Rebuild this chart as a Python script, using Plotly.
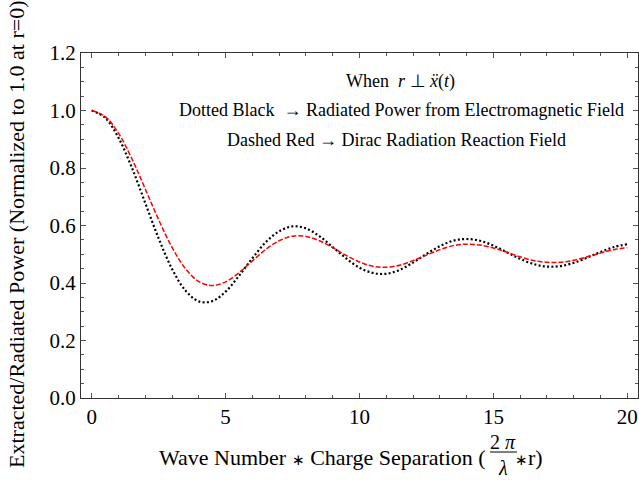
import plotly.graph_objects as go

# x values (wave number * charge separation)
x_vals = [0.0, 0.5, 1.0, 1.5, 2.0, 2.5, 3.0, 3.5, 4.0, 4.5, 5.0, 5.5, 6.0, 6.5, 7.0, 7.5,
          8.0, 8.5, 9.0, 9.5, 10.0, 10.5, 11.0, 11.5, 12.0, 12.5, 13.0, 13.5, 14.0, 14.5,
          15.0, 15.5, 16.0, 16.5, 17.0, 17.5, 18.0, 18.5, 19.0, 19.5, 20.0]

# Dotted black: radiated power from electromagnetic field
em_power = [1.000, 0.975, 0.905, 0.801, 0.678, 0.555, 0.449, 0.374, 0.336, 0.337, 0.370,
            0.425, 0.486, 0.542, 0.580, 0.597, 0.590, 0.563, 0.525, 0.486, 0.453, 0.435,
            0.432, 0.446, 0.471, 0.501, 0.528, 0.547, 0.553, 0.547, 0.530, 0.507, 0.484,
            0.466, 0.457, 0.459, 0.470, 0.488, 0.508, 0.525, 0.535]

# Dashed red: Dirac radiation reaction field
dirac_power = [1.000, 0.979, 0.921, 0.832, 0.727, 0.620, 0.524, 0.450, 0.405, 0.391, 0.404,
               0.436, 0.477, 0.517, 0.547, 0.563, 0.562, 0.547, 0.523, 0.496, 0.473, 0.458,
               0.455, 0.462, 0.478, 0.497, 0.516, 0.530, 0.535, 0.532, 0.522, 0.507, 0.491,
               0.478, 0.472, 0.472, 0.479, 0.491, 0.504, 0.516, 0.523]

y_tick_vals = [0.0, 0.2, 0.4, 0.6, 0.8, 1.0, 1.2]
y_tick_text = ["0.0", "0.2", "0.4", "0.6", "0.8", "1.0", "1.2"]
x_tick_vals = [0, 5, 10, 15, 20]
x_tick_text = ["0", "5", "10", "15", "20"]

FONT = "Liberation Serif, Times New Roman, serif"

fig = go.Figure()
fig.add_trace(go.Scatter(x=x_vals, y=em_power, mode="lines",
                         line=dict(color="black", width=2.2, dash="2px,2.3px", shape="spline"),
                         showlegend=False))
fig.add_trace(go.Scatter(x=x_vals, y=dirac_power, mode="lines",
                         line=dict(color="#ff0000", width=1.5, dash="5px,2px", shape="spline"),
                         showlegend=False))

axis_common = dict(showline=True, linecolor="#333333", linewidth=1, mirror="allticks",
                   ticks="inside", ticklen=5, tickcolor="#555555", tickwidth=1,
                   showgrid=False, zeroline=False,
                   tickfont=dict(family=FONT, size=21, color="black"))

fig.update_xaxes(range=[-0.4, 20.4], tickvals=x_tick_vals, ticktext=x_tick_text,
                 minor=dict(ticks="inside", dtick=1, tick0=0, ticklen=3, tickcolor="#555555",
                            showgrid=False),
                 **axis_common)
fig.update_yaxes(range=[0, 1.2], tickvals=y_tick_vals, ticktext=y_tick_text,
                 minor=dict(ticks="inside", dtick=0.05, tick0=0, ticklen=3, tickcolor="#555555",
                            showgrid=False),
                 **axis_common)

L, R, T, B = 81, 1, 53, 82
W, H = 639, 480
pw, ph = W - L - R, H - T - B

def px(xp):
    return (xp - L) / pw

def py(yp):
    return (H - B - yp) / ph

tf = dict(family=FONT, size=18, color="black")
annots = [
    dict(text="When  <i>r</i> ⊥ <i>ẍ</i>(<i>t</i>)", x=px(400), y=py(81)),
    dict(text="Dotted Black  → Radiated Power from Electromagnetic Field", x=px(401), y=py(110)),
    dict(text="Dashed Red → Dirac Radiation Reaction Field", x=px(396), y=py(140)),
]
for a in annots:
    fig.add_annotation(xref="paper", yref="paper", xanchor="center", yanchor="middle",
                       showarrow=False, font=tf, **a)

# x-axis title with fraction
xf = dict(family=FONT, size=22, color="black")
ff = dict(family=FONT, size=20, color="black")
star = "<span style='font-size:15px'>∗</span>"
fig.add_annotation(xref="paper", yref="paper", x=px(488), y=py(457), xanchor="right",
                   yanchor="middle", showarrow=False, font=xf,
                   text="Wave Number " + star + " Charge Separation (")
fig.add_annotation(xref="paper", yref="paper", x=px(503), y=py(442), xanchor="center",
                   yanchor="middle", showarrow=False, font=ff, text="2 <i>π</i>")
fig.add_annotation(xref="paper", yref="paper", x=px(503), y=py(468), xanchor="center",
                   yanchor="middle", showarrow=False, font=ff, text="<i>λ</i>")
fig.add_annotation(xref="paper", yref="paper", x=px(513), y=py(457), xanchor="left",
                   yanchor="middle", showarrow=False, font=xf, text=star + "r)")
fig.add_shape(type="line", xref="paper", yref="paper", x0=px(490), x1=px(517),
              y0=py(452), y1=py(452), line=dict(color="black", width=1))

# y-axis title
fig.add_annotation(xref="paper", yref="paper", x=px(17), y=py(234), xanchor="center",
                   yanchor="middle", showarrow=False, textangle=-90, font=xf,
                   text="Extracted/Radiated Power (Normalized to 1.0 at r=0)")

fig.update_layout(width=W, height=H, margin=dict(l=L, r=R, t=T, b=B),
                  paper_bgcolor="white", plot_bgcolor="white",
                  font=dict(family=FONT, color="black"))

fig.write_html("out.html", config={"displayModeBar": False},
               post_script="document.body.style.margin='0px';")
